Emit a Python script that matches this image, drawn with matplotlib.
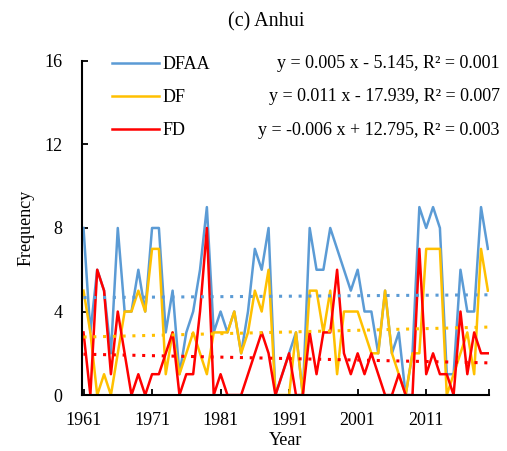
import numpy as np
import matplotlib
matplotlib.use('Agg')
import matplotlib.pyplot as plt

plt.rcParams['font.family'] = ['Liberation Serif', 'DejaVu Serif']

# Anos
years = np.arange(1961, 2021)

# Frequencia de eventos
dfaa = [8, 3, 6, 5, 2, 8, 4, 4, 6, 4,
        8, 8, 3, 5, 1, 3, 4, 6, 9, 3,
        4, 3, 4, 2, 4, 7, 6, 8, 0, 1,
        2, 3, 0, 8, 6, 6, 8, 7, 6, 5,
        6, 4, 4, 2, 5, 2, 3, 0, 2, 9,
        8, 9, 8, 1, 1, 6, 4, 4, 9, 7]
df = [5, 3, 0, 1, 0, 2, 4, 4, 5, 4,
      7, 7, 1, 3, 1, 2, 3, 2, 1, 3,
      3, 3, 4, 2, 3, 5, 4, 6, 0, 0,
      0, 3, 0, 5, 5, 3, 5, 1, 4, 4,
      4, 3, 2, 2, 5, 2, 1, 0, 2, 2,
      7, 7, 7, 0, 1, 2, 3, 1, 7, 5]
fd = [3, 0, 6, 5, 1, 4, 2, 0, 1, 0,
      1, 1, 2, 3, 0, 1, 1, 4, 8, 0,
      1, 0, 0, 0, 1, 2, 3, 2, 0, 1,
      2, 0, 0, 3, 1, 3, 3, 6, 2, 1,
      2, 1, 2, 1, 0, 0, 1, 0, 0, 7,
      1, 2, 1, 1, 0, 4, 1, 3, 2, 2]

series_names = ['DFAA', 'DF', 'FD']
colors = ['#5B9BD5', '#FFC000', '#FF0000']
equations = ['y = 0.005 x - 5.145, R² = 0.001',
             'y = 0.011 x - 17.939, R² = 0.007',
             'y = -0.006 x + 12.795, R² = 0.003']

fig = plt.figure(figsize=(5.07, 4.51), dpi=100)
ax = fig.add_axes([0.162, 0.124, 0.803, 0.741])

for vals, name, cor in zip([dfaa, df, fd], series_names, colors):
    ax.plot(years, vals, color=cor, lw=1.8, label=name)

# Linhas de tendencia
for vals, cor in zip([dfaa, df, fd], colors):
    coef = np.polyfit(years, vals, 1)
    ax.plot(years, np.polyval(coef, years), color=cor, lw=2.2,
            linestyle=(0, (1, 2.2)))

ax.set_xlim(1960.8, 2020.2)
ax.set_ylim(0, 16)
ax.set_yticks([0, 4, 8, 12, 16])
ax.set_xticks(list(range(1961, 2021, 10)) + [2020.2])
ax.set_xticklabels([str(a) for a in range(1961, 2021, 10)] + [''])
ax.tick_params(direction='in', length=4, width=1.3, labelsize=13)
ax.tick_params(axis='x', pad=12)
ax.tick_params(axis='y', pad=14)
for lado in ['top', 'right']:
    ax.spines[lado].set_visible(False)
for lado in ['left', 'bottom']:
    ax.spines[lado].set_linewidth(1.5)

ax.set_xlabel('Year', fontsize=13, labelpad=2)
ax.set_ylabel('Frequency', fontsize=13, labelpad=7)

handles = ax.get_lines()[:3]
ax.legend(handles, series_names, loc='upper left', bbox_to_anchor=(0.073, 1.014),
          frameon=False, fontsize=13, handlelength=2.6, handletextpad=0.2,
          labelspacing=0.88, borderpad=0, borderaxespad=0)

for i, eq in enumerate(equations):
    fig.text(500 / 507, 1 - (63 + i * 33.5) / 451, eq, ha='right', va='center',
             fontsize=13)

fig.text(266 / 507, 1 - 22 / 451, '(c) Anhui', ha='center', va='center',
         fontsize=14.5)

fig.savefig('out.png', dpi=100)
